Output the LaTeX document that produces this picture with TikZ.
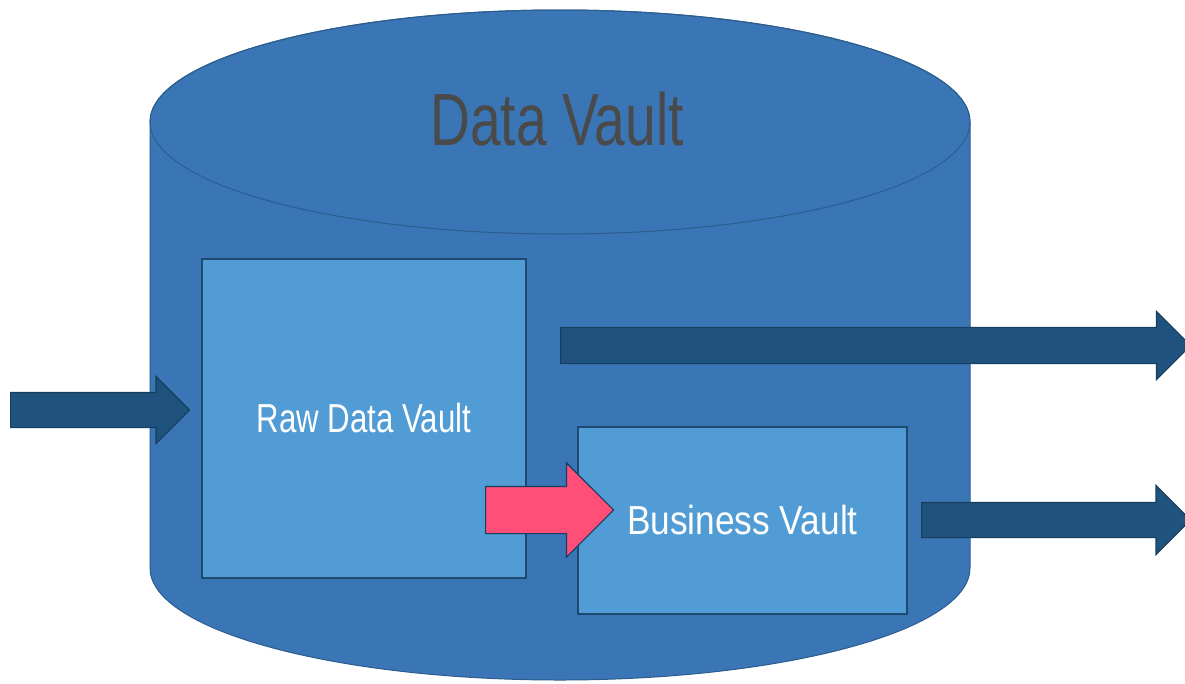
\documentclass[tikz,border=0pt]{standalone}
\usepackage{fontspec}
\usepackage{xcolor}
\usetikzlibrary{shapes.arrows}
\newfontfamily\vaultfont{Liberation Sans}[FakeStretch=0.77]
\newfontfamily\businessfont{Liberation Sans}[FakeStretch=0.87]
\newfontfamily\titlefont{Liberation Sans}[FakeStretch=0.745]

\definecolor{cylfill}{HTML}{3A76B5}
\definecolor{cylline}{HTML}{2C5D8E}
\definecolor{boxfill}{HTML}{519CD5}
\definecolor{boxline}{HTML}{1C4A70}
\definecolor{flowfill}{HTML}{1F527C}
\definecolor{flowline}{HTML}{163E5E}
\definecolor{pinkfill}{HTML}{FF4F78}
\definecolor{titlegray}{HTML}{4A4A4A}

\tikzset{
  vaultbox/.style={draw=boxline, fill=boxfill, line width=1.3pt, text=white,
    font=\vaultfont\fontsize{40.5}{46}\selectfont, inner sep=0pt},
  flowarrow/.style={single arrow, draw=flowline, fill=flowfill, line width=1.2pt,
    inner xsep=0pt, single arrow tip angle=90, single arrow head indent=0pt, anchor=tail}
}

\begin{document}
\begin{tikzpicture}[x=1pt,y=-1pt]
			\useasboundingbox (0,0) rectangle (1185,683);
			\clip (0,0) rectangle (1185,683);
			% cylinder body and lid
			\draw [cylline, fill=cylfill, line width=1pt] (150,122) -- (150,568)
				arc [start angle=180, end angle=360, x radius=410pt, y radius=112pt]
				-- (970,122)
				arc [start angle=0, end angle=180, x radius=410pt, y radius=112pt] -- cycle;
			\draw [cylline, line width=1pt] (560,122) ellipse [x radius=410pt, y radius=112pt];
			\node[text=titlegray, font=\titlefont\fontsize{74}{80}\selectfont] (title) at (557,119) {Data Vault};
			% the two vaults
			\node[vaultbox, minimum width=324pt, minimum height=319pt] (raw) at (364,418.5) {Raw Data Vault};
			\node[vaultbox, font=\businessfont\fontsize{40.5}{46}\selectfont, minimum width=329pt, minimum height=187pt] (business) at (742.5,520.5) {Business Vault};
			% flows
			\node[flowarrow, inner ysep=17pt, single arrow head extend=16pt, minimum height=179pt] (load) at (10,410) {};
			\node[flowarrow, inner ysep=17.5pt, single arrow head extend=16pt, minimum height=630pt] (rawout) at (560,345.5) {};
			\node[flowarrow, inner ysep=17pt, single arrow head extend=17pt, minimum height=269pt] (busout) at (921,520) {};
			\node[flowarrow, fill=pinkfill, inner ysep=23pt, single arrow head extend=23.5pt, minimum height=128pt] (derive) at (485,510) {};
\end{tikzpicture}
\end{document}
